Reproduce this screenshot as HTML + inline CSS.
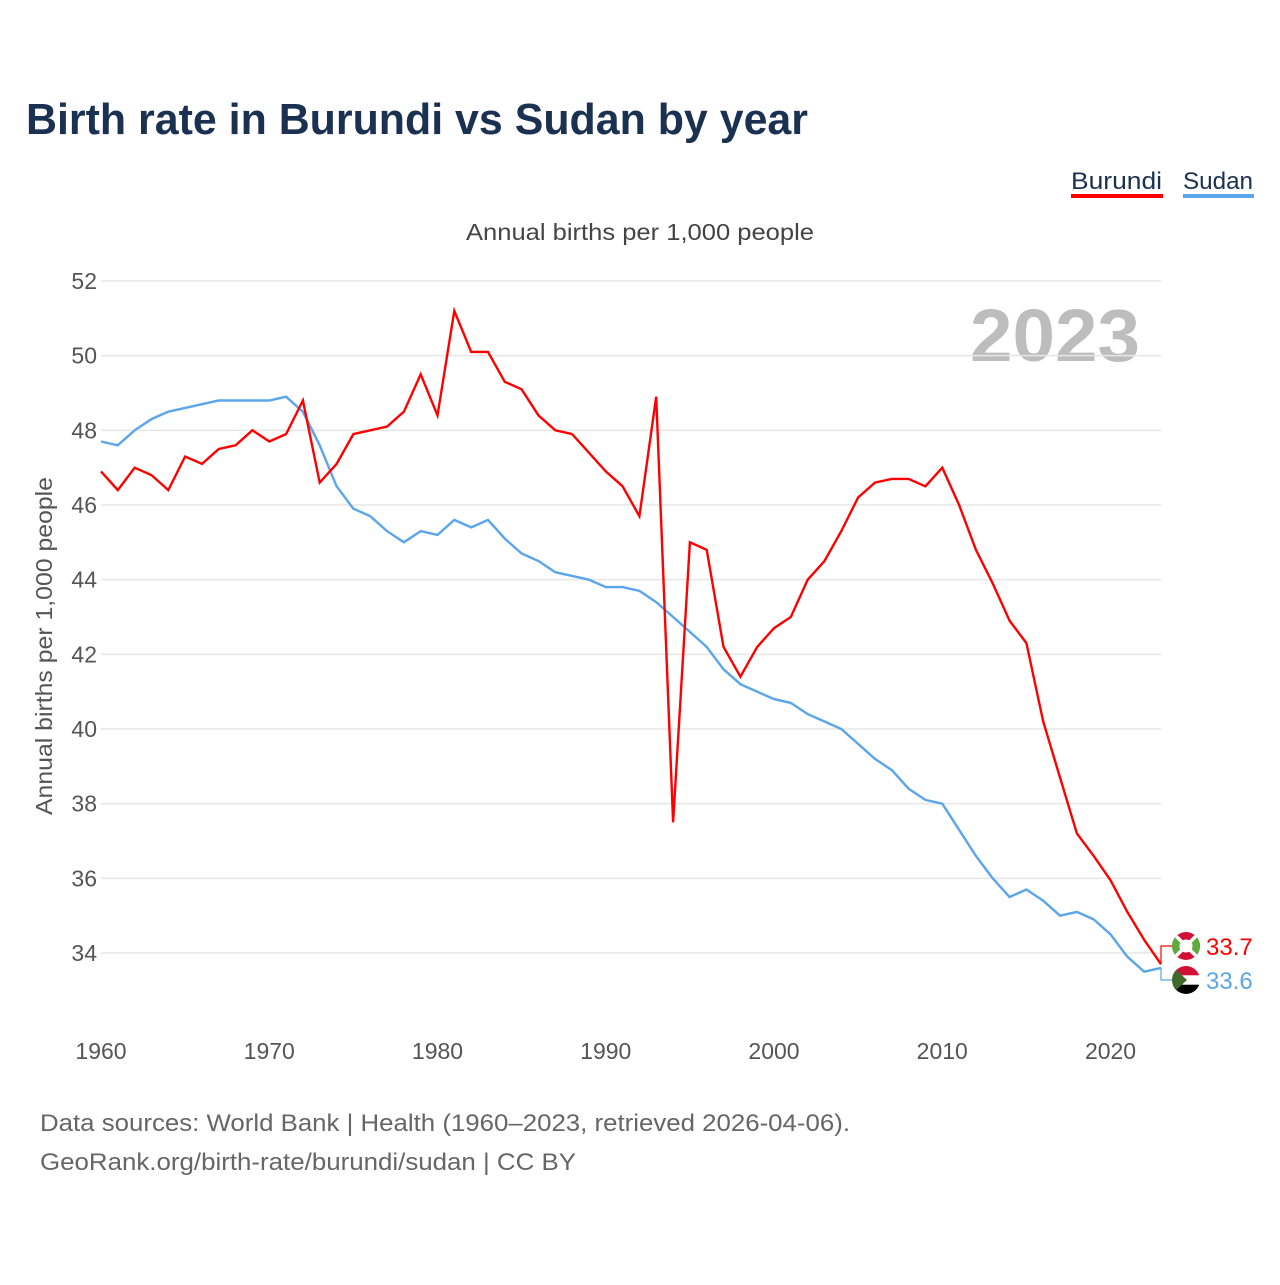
<!DOCTYPE html>
<html><head><meta charset="utf-8"><style>
body{margin:0;background:#fff;font-family:"Liberation Sans",sans-serif}
</style></head><body>
<svg width="1280" height="1280" viewBox="0 0 1280 1280" xmlns="http://www.w3.org/2000/svg" font-family="Liberation Sans, sans-serif">
<defs>
<clipPath id="cb"><circle cx="1186" cy="946" r="14"/></clipPath>
<clipPath id="cs"><circle cx="1186" cy="980" r="14"/></clipPath>
</defs>
<text x="26" y="134" font-size="44" font-weight="bold" fill="#1b3152" textLength="782" lengthAdjust="spacingAndGlyphs">Birth rate in Burundi vs Sudan by year</text>
<g><text x="1071" y="189" font-size="24" fill="#1b3152" textLength="91" lengthAdjust="spacingAndGlyphs">Burundi</text><rect x="1071" y="194" width="92" height="4" fill="#ff0000"/></g>
<g><text x="1183" y="189" font-size="24" fill="#1b3152" textLength="70" lengthAdjust="spacingAndGlyphs">Sudan</text><rect x="1183" y="194" width="71" height="4" fill="#5aa5ec"/></g>
<text x="466" y="240" font-size="23" fill="#444" textLength="348" lengthAdjust="spacingAndGlyphs">Annual births per 1,000 people</text>
<text x="1140" y="361" font-size="74" font-weight="bold" fill="#bdbdbd" text-anchor="end" textLength="170" lengthAdjust="spacingAndGlyphs">2023</text>
<text transform="translate(52,815) rotate(-90)" font-size="23" fill="#555" textLength="338" lengthAdjust="spacingAndGlyphs">Annual births per 1,000 people</text>
<g id="grid"></g><g id="lines"></g><g id="ends"></g>
<text x="40" y="1131" font-size="24" fill="#666" textLength="810" lengthAdjust="spacingAndGlyphs">Data sources: World Bank | Health (1960–2023, retrieved 2026-04-06).</text>
<text x="40" y="1170" font-size="24" fill="#666" textLength="536" lengthAdjust="spacingAndGlyphs">GeoRank.org/birth-rate/burundi/sudan | CC BY</text>
</svg>
<script>
const years=[];for(let y=1960;y<=2023;y++)years.push(y);
const burundi=[46.9,46.4,47.0,46.8,46.4,47.3,47.1,47.5,47.6,48.0,47.7,47.9,48.8,46.6,47.1,47.9,48.0,48.1,48.5,49.5,48.4,51.2,50.1,50.1,49.3,49.1,48.4,48.0,47.9,47.4,46.9,46.5,45.7,48.9,37.5,45.0,44.8,42.2,41.4,42.2,42.7,43.0,44.0,44.5,45.3,46.2,46.6,46.7,46.7,46.5,47.0,46.0,44.8,43.9,42.9,42.3,40.2,38.7,37.2,36.6,35.95,35.1,34.35,33.7];
const sudan=[47.7,47.6,48.0,48.3,48.5,48.6,48.7,48.8,48.8,48.8,48.8,48.9,48.5,47.6,46.5,45.9,45.7,45.3,45.0,45.3,45.2,45.6,45.4,45.6,45.1,44.7,44.5,44.2,44.1,44.0,43.8,43.8,43.7,43.4,43.0,42.6,42.2,41.6,41.2,41.0,40.8,40.7,40.4,40.2,40.0,39.6,39.2,38.9,38.4,38.1,38.0,37.3,36.6,36.0,35.5,35.7,35.4,35.0,35.1,34.9,34.5,33.9,33.5,33.6];
const yTicks=[34,36,38,40,42,44,46,48,50,52];
const xTicks=[1960,1970,1980,1990,2000,2010,2020];
const NS="http://www.w3.org/2000/svg";
const X=v=>101+(v-1960)*(1161-101)/63;
const Y=v=>281+(52-v)*672/18;
function mk(tag,attrs,parent,txt){const e=document.createElementNS(NS,tag);for(const k in attrs)e.setAttribute(k,attrs[k]);if(txt!==undefined)e.textContent=txt;parent.appendChild(e);return e;}
const grid=document.getElementById('grid');
yTicks.forEach(t=>{
 const l=mk('line',{x1:101,x2:1161,y1:Y(t),y2:Y(t),stroke:'#e6e6e6','stroke-width':1.5},grid);
 
 
 const tx=mk('text',{x:97,y:Y(t)+8,'font-size':23,fill:'#555','text-anchor':'end'},grid,t);
 
 
});
xTicks.forEach(t=>{
 const tx=mk('text',{x:X(t),y:1059,'font-size':23,fill:'#555','text-anchor':'middle'},grid,t);
 
 
});
const lines=document.getElementById('lines');
function path(data,col,name){
 const d=data.map((v,i)=>(i?'L':'M')+X(years[i]).toFixed(1)+','+Y(v).toFixed(1)).join('');
 const p=mk('path',{d:d,fill:'none',stroke:col,'stroke-width':2.4,'stroke-linejoin':'miter'},lines);
 
 
}
path(sudan,'#5aa5ec','sudan-line');
path(burundi,'#ff0000','burundi-line');
const ends=document.getElementById('ends');
function endLabel(v,col,ly,name,clip,flag){
 const x0=X(2023),y0=Y(v);
 const c=mk('path',{d:`M${x0},${y0}L${x0},${ly}L1172,${ly}`,fill:'none',stroke:col,'stroke-width':1.2},ends);
 
 
 const g=mk('g',{'clip-path':`url(#${clip})`},ends);
 
 
 flag(g,1186,ly);
 const t=mk('text',{x:1206,y:ly+9,'font-size':24,fill:col},ends,v.toFixed(1));
 
 
}
endLabel(burundi[63],'#ff0000',946,'burundi','cb',(g,cx,cy)=>{
 mk('rect',{x:cx-14,y:cy-14,width:28,height:28,fill:'#d21034'},g);
 mk('path',{d:`M${cx-14},${cy-14}L${cx},${cy}L${cx-14},${cy+14}Z M${cx+14},${cy-14}L${cx},${cy}L${cx+14},${cy+14}Z`,fill:'#5eaa3c'},g);
 mk('path',{d:`M${cx-14},${cy-14}L${cx+14},${cy+14}M${cx+14},${cy-14}L${cx-14},${cy+14}`,stroke:'#fff','stroke-width':3.5},g);
 mk('circle',{cx,cy,r:6.5,fill:'#fff'},g);
});
endLabel(sudan[63],'#5aa5ec',980,'sudan','cs',(g,cx,cy)=>{
 mk('rect',{x:cx-14,y:cy-14,width:28,height:10,fill:'#d21034'},g);
 mk('rect',{x:cx-14,y:cy-4.7,width:28,height:9.4,fill:'#fff'},g);
 mk('rect',{x:cx-14,y:cy+4.7,width:28,height:10,fill:'#000'},g);
 mk('path',{d:`M${cx-14},${cy-14}L${cx+1},${cy}L${cx-14},${cy+14}Z`,fill:'#3f6a2c'},g);
});
</script>
</body></html>
